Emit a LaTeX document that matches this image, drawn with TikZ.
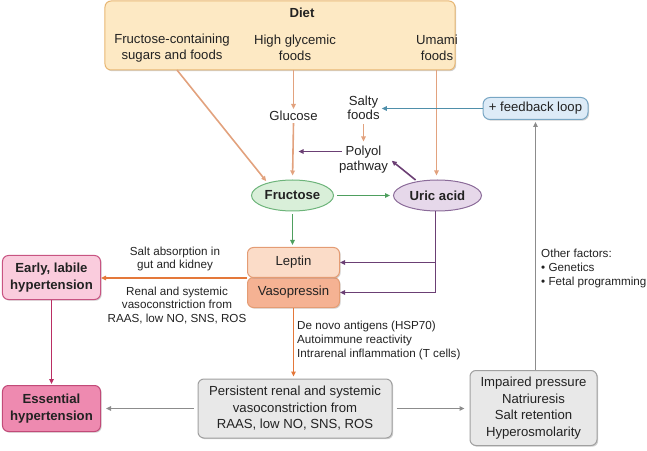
\documentclass[tikz,border=0pt]{standalone}
\usepackage{fontspec}
\setmainfont{Liberation Sans}
\usetikzlibrary{shapes.geometric,arrows.meta,shadows,calc}
\definecolor{dietfill}{HTML}{FDE9C4}
\definecolor{dietdraw}{HTML}{E8B774}
\definecolor{dietarr}{HTML}{E2A27E}
\definecolor{frufill}{HTML}{D9EFD9}
\definecolor{frudraw}{HTML}{6DB47A}
\definecolor{fruarr}{HTML}{4E9F5E}
\definecolor{uricfill}{HTML}{E6D8EA}
\definecolor{uricdraw}{HTML}{8B6B99}
\definecolor{uricarr}{HTML}{6B3F74}
\definecolor{leptfill}{HTML}{FBDCC8}
\definecolor{vasofill}{HTML}{F5B293}
\definecolor{leptdraw}{HTML}{E49C74}
\definecolor{orarr}{HTML}{E4783A}
\definecolor{earlyfill}{HTML}{FACCDD}
\definecolor{earlydraw}{HTML}{C85482}
\definecolor{essfill}{HTML}{EE8AB0}
\definecolor{essdraw}{HTML}{C14A78}
\definecolor{pinkarr}{HTML}{BA2E63}
\definecolor{greyfill}{HTML}{E8E8E8}
\definecolor{greydraw}{HTML}{A0A0A0}
\definecolor{greyarr}{HTML}{8C8C8C}
\definecolor{fbfill}{HTML}{DDEBF7}
\definecolor{fbdraw}{HTML}{78A6C4}
\definecolor{fbarr}{HTML}{4F8FAA}
\definecolor{txt}{HTML}{222222}
\newcommand\mymain{\fontsize{13.2}{16.5}\selectfont}
\newcommand\mylab{\fontsize{11.7}{13.8}\selectfont}
\begin{document}
\begin{tikzpicture}[x=1bp,y=-1bp,
  every node/.style={text=txt},
  box/.style={draw, rounded corners=6bp, line width=1bp, align=center, inner sep=2bp, font=\mymain},
  shad/.style={drop shadow={shadow xshift=1.2bp,shadow yshift=-1.2bp,opacity=0.3,fill=black!60}},
  oval/.style={ellipse, draw, line width=1bp, inner sep=0pt, font=\bfseries\mymain},
  txtnode/.style={align=center, inner sep=2bp, font=\mymain},
  lab/.style={align=center, inner sep=0pt, font=\mylab},
  arr/.style={line width=1.6bp, -{Triangle[length=5bp,width=4.5bp]}}
]
\useasboundingbox (0,0) rectangle (647,451);

% Diet box
\node[box, shad, fill=dietfill, draw=dietdraw, minimum width=350bp, minimum height=69bp] (diet) at (280,35.5) {};
\node[font=\bfseries\mymain, inner sep=0pt] (diettitle) at (302,13) {Diet};
\node[txtnode] (fcs) at (172,48) {Fructose-containing\\sugars and foods};
\node[txtnode] (hgf) at (295,48) {High glycemic\\foods};
\node[txtnode] (umami) at (437,48) {Umami\\foods};
\coordinate (d1) at (177,70);
\coordinate (d2) at (293.5,70);
\coordinate (d3) at (436.5,70);

% middle texts
\node[txtnode] (glucose) at (293.5,116) {Glucose};
\node[txtnode, font=\fontsize{13.2}{14.5}\selectfont] (salty) at (363.5,108) {Salty\\foods};
\node[txtnode, font=\fontsize{13.2}{15.5}\selectfont] (polyol) at (363.5,159.5) {Polyol\\pathway};

% ellipses
\node[oval, fill=frufill, draw=frudraw, minimum width=82bp, minimum height=31bp] (fructose) at (292.5,195.5) {Fructose};
\node[oval, fill=uricfill, draw=uricdraw, minimum width=88bp, minimum height=31bp] (uric) at (437.5,195.5) {Uric acid};

% leptin / vasopressin
\node[box, shad, fill=vasofill, draw=leptdraw, minimum width=92bp, minimum height=30bp] (vaso) at (293.5,292.5) {Vasopressin};
\node[box, shad, fill=leptfill, draw=leptdraw, minimum width=92bp, minimum height=30bp] (leptin) at (293.5,262.5) {Leptin};

% hypertension boxes
\node[box, shad, fill=earlyfill, draw=earlydraw, minimum width=98bp, minimum height=44bp, font=\bfseries\mymain] (early) at (51.5,277.5) {Early, labile\\hypertension};
\node[box, shad, fill=essfill, draw=essdraw, minimum width=98bp, minimum height=46bp, font=\bfseries\mymain] (essential) at (51.5,408.5) {Essential\\hypertension};

% grey boxes
\node[box, shad, fill=greyfill, draw=greydraw, minimum width=194bp, minimum height=59bp] (persist) at (295,408.5) {Persistent renal and systemic\\vasoconstriction from\\RAAS, low NO, SNS, ROS};
\node[box, shad, fill=greyfill, draw=greydraw, minimum width=127bp, minimum height=75bp] (impaired) at (533.5,408) {Impaired pressure\\Natriuresis\\Salt retention\\Hyperosmolarity};

% feedback
\node[box, shad, rounded corners=7bp, fill=fbfill, draw=fbdraw, minimum width=105bp, minimum height=22bp] (feedback) at (535.5,108.5) {+ feedback loop};

% labels
\node[lab] (saltlab) at (175,259) {Salt absorption in\\gut and kidney};
\node[lab] (renallab) at (177,305.5) {Renal and systemic\\vasoconstriction from\\RAAS, low NO, SNS, ROS};
\node[lab, align=left, anchor=west, font=\fontsize{11.7}{14.5}\selectfont] (denovo) at (297,340.5) {De novo antigens (HSP70)\\Autoimmune reactivity\\Intrarenal inflammation (T cells)};
\node[lab, align=left, anchor=north west, font=\fontsize{11.7}{14}\selectfont] (other) at (541,249) {Other factors:\\\textbullet{} Genetics\\\textbullet{} Fetal programming};

% connectors from diet
\draw[arr, draw=dietarr, shorten >=2bp] (d1) -- (fructose.153);
\draw[arr, draw=dietarr] (d2) -- (glucose.north);
\draw[arr, draw=dietarr, shorten >=4bp] (glucose.south) -- (fructose.north);
\draw[arr, draw=dietarr, shorten >=4bp] (d3) -- (d3 |- uric.north);
\draw[arr, draw=dietarr, shorten <=2bp, shorten >=2bp] (salty.south) -- (polyol.north);

% feedback to salty
\draw[arr, draw=fbarr] (feedback.west) -- (salty.east |- feedback.west);

% polyol to glucose line
\coordinate (pa) at ($(polyol.west)+(5,-8)$);
\coordinate (pb) at ($(glucose.south |- pa)+(5,0)$);
\draw[arr, draw=uricarr] (pa) -- (pb);
\draw[arr, draw=uricarr, shorten <=2bp, shorten >=2bp] (uric.145) -- (polyol.east);

% fructose arrows
\draw[arr, draw=fruarr, shorten <=3bp, shorten >=3bp] (fructose.east) -- (uric.west);
\draw[arr, draw=fruarr, shorten <=3bp, shorten >=2bp] (fructose.south) -- (fructose.south |- leptin.north);

% uric to leptin / vaso
\coordinate (ub) at ($(uric.south)+(-2,0)$);
\draw[arr, draw=uricarr] (ub) |- (vaso.east);
\draw[arr, draw=uricarr] (ub |- leptin.east) -- (leptin.east);

% leptin to early
\draw[arr, draw=orarr] (leptin.south west) -- (early.east |- leptin.south west);

% vaso to persist
\draw[arr, draw=orarr, shorten >=2bp] (vaso.south) -- (vaso.south |- persist.north);

% early to essential
\draw[arr, draw=pinkarr, shorten >=1bp] (early.south) -- (essential.north);

% grey arrows
\coordinate (gx) at ($(impaired.north)+(2,0)$);
\draw[arr, draw=greyarr, shorten <=4bp, shorten >=5bp] (persist.west) -- (essential.east);
\draw[arr, draw=greyarr, shorten <=4bp, shorten >=5bp] (persist.east) -- (impaired.west |- persist.east);
\draw[arr, draw=greyarr, shorten >=2bp] (gx) -- (gx |- feedback.south);
\end{tikzpicture}
\end{document}
